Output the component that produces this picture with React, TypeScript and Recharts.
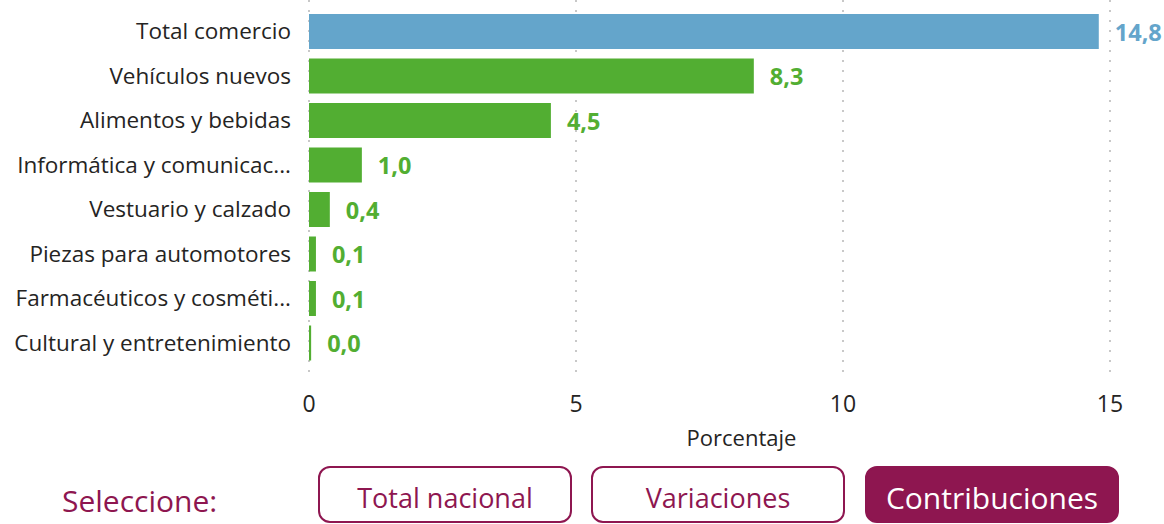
import React from "react";
import {
  BarChart,
  Bar,
  XAxis,
  YAxis,
  CartesianGrid,
  Cell,
  LabelList,
} from "recharts";

const categories = [
  "Total comercio",
  "Vehículos nuevos",
  "Alimentos y bebidas",
  "Informática y comunicaciones",
  "Vestuario y calzado",
  "Piezas para automotores",
  "Farmacéuticos y cosméticos",
  "Cultural y entretenimiento",
];

const tickLabels = [
  "Total comercio",
  "Vehículos nuevos",
  "Alimentos y bebidas",
  "Informática y comunicac...",
  "Vestuario y calzado",
  "Piezas para automotores",
  "Farmacéuticos y cosméti...",
  "Cultural y entretenimiento",
];

const contributions = [14.79, 8.33, 4.53, 0.99, 0.39, 0.13, 0.13, 0.04];

const xTicks = [0, 5, 10, 15];

const buttonLabels = ["Total nacional", "Variaciones", "Contribuciones"];
const selectLabel = "Seleccione:";
const axisTitle = "Porcentaje";

const data = categories.map((name, i) => ({ name, value: contributions[i] }));

const FONT = "'Open Sans', sans-serif";
const BLUE = "#64A5CB";
const GREEN = "#52AE32";
const MAROON = "#8E1650";

const fmt = (v: number) => v.toFixed(1).replace(".", ",");
const labelFor = (s: string) => {
  const i = categories.indexOf(s);
  return i >= 0 ? tickLabels[i] : s;
};

export default function App() {
  return (
    <div style={{ position: "relative", width: 1164, height: 524, fontFamily: FONT }}>
      <style>{`body{margin:0}`}</style>
      <div style={{ position: "absolute", left: 0, top: 0 }}>
        <BarChart
          width={1164}
          height={462}
          data={data}
          layout="vertical"
          margin={{ top: 0, right: 54, bottom: 0, left: 0 }}
        >
          <CartesianGrid
            horizontal={false}
            vertical={true}
            stroke="#C8C8C8"
            strokeWidth={2}
            strokeDasharray="2 8"
          />
          <XAxis
            type="number"
            domain={[0, 15]}
            ticks={xTicks}
            axisLine={false}
            tickLine={false}
            tickSize={0}
            tickMargin={16}
            height={82}
            tick={{ fill: "#252423", fontSize: 23, fontFamily: FONT }}
            label={{
              value: axisTitle,
              position: "insideBottom",
              offset: 16,
              dx: 32,
              fill: "#252423",
              fontSize: 22,
              fontFamily: FONT,
            }}
          />
          <YAxis
            type="category"
            dataKey="name"
            width={309}
            axisLine={false}
            tickLine={false}
            tickSize={0}
            tickMargin={18}
            padding={{ top: 9, bottom: 15 }}
            interval={0}
            tickFormatter={labelFor}
            tick={{ fill: "#252423", fontSize: 22.5, fontFamily: FONT }}
          />
          <Bar dataKey="value" barSize={35} isAnimationActive={false}>
            {data.map((d, i) => (
              <Cell key={d.name} fill={i === 0 ? BLUE : GREEN} />
            ))}
            <LabelList
              dataKey="value"
              content={(props: any) => {
                const { x, y, width, height, value, index } = props;
                return (
                  <text
                    x={Number(x) + Number(width) + 16}
                    y={Number(y) + Number(height) / 2}
                    dominantBaseline="central"
                    fill={index === 0 ? BLUE : GREEN}
                    fontSize={23.5}
                    fontWeight={700}
                    fontFamily={FONT}
                  >
                    {fmt(Number(value))}
                  </text>
                );
              }}
            />
          </Bar>
        </BarChart>
      </div>
      <div
        style={{
          position: "absolute",
          left: 62,
          top: 481,
          fontSize: 30,
          color: MAROON,
          lineHeight: "40px",
        }}
      >
        {selectLabel}
      </div>
      {buttonLabels.map((b, i) => {
        const lefts = [318, 591, 865];
        const active = i === 2;
        return (
          <div
            key={b}
            style={{
              position: "absolute",
              left: lefts[i],
              top: 466,
              width: 254,
              height: 57,
              boxSizing: "border-box",
              border: `2px solid ${MAROON}`,
              borderRadius: 12,
              background: active ? MAROON : "#fff",
              color: active ? "#fff" : MAROON,
              fontSize: active ? 30 : 27,
              paddingTop: 5,
              display: "flex",
              alignItems: "center",
              justifyContent: "center",
            }}
          >
            {b}
          </div>
        );
      })}
    </div>
  );
}
